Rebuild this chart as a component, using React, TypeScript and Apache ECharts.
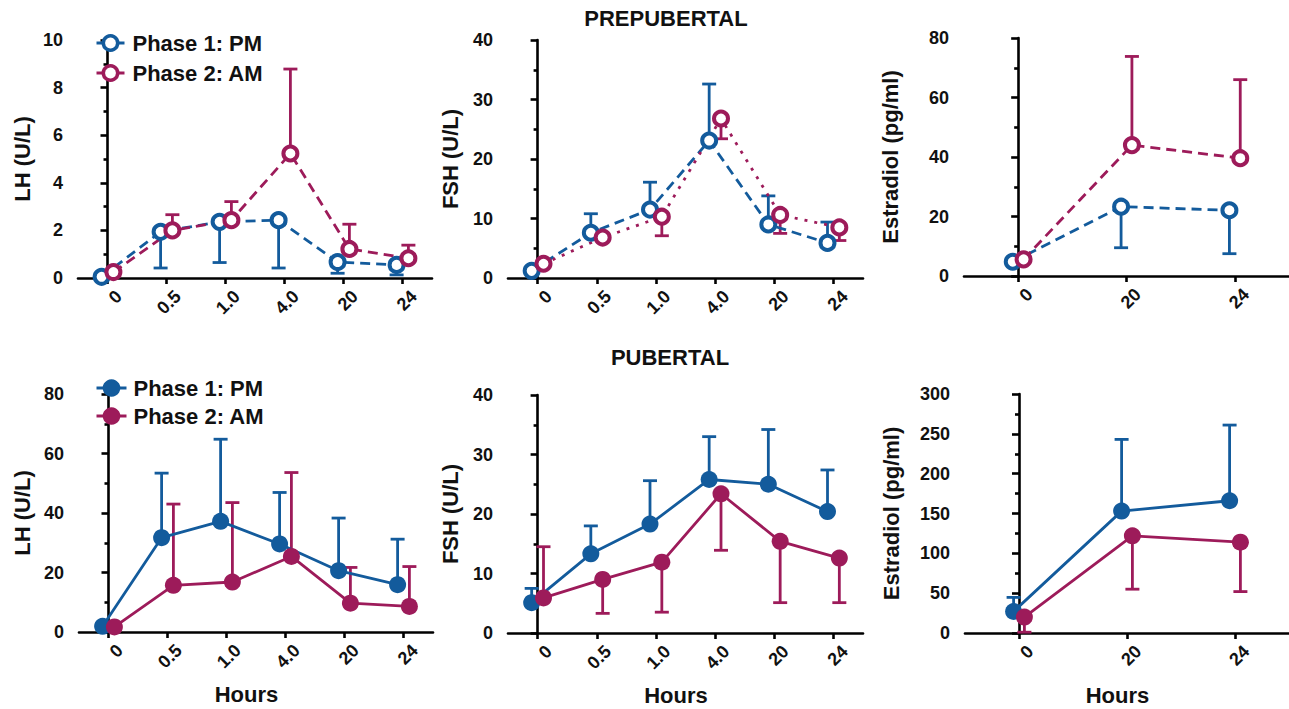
import React, { useEffect, useRef } from 'react';
import * as echarts from 'echarts';

// ---------- categories & labels ----------
const hours = ['0', '0.5', '1.0', '4.0', '20', '24'];
const hoursE2 = ['0', '20', '24'];
const titles = ['PREPUBERTAL', 'PUBERTAL'];
const yNames = ['LH (U/L)', 'FSH (U/L)', 'Estradiol (pg/ml)'];
const xName = 'Hours';
const phaseNames = ['Phase 1: PM', 'Phase 2: AM'];
const pubKeys = ['PM pubertal', 'AM pubertal'];

// y-axis scales (max, interval) per panel
const yMaxPre = [10, 40, 80];
const yIntPre = [2, 10, 20];
const yMaxPub = [80, 40, 300];
const yIntPub = [20, 10, 50];

// ---------- PREPUBERTAL ----------
const preLH_PM = [0.05, 1.94, 2.36, 2.43, 0.67, 0.55];
const preLH_PM_err = [null, 0.42, 0.65, 0.42, 0.2, 0.13];
const preLH_AM = [0.25, 2.0, 2.43, 5.23, 1.22, 0.83];
const preLH_AM_err = [null, 2.66, 3.21, 8.78, 2.26, 1.38];

const preFSH_PM = [1.2, 7.6, 11.5, 23.1, 9.0, 5.9];
const preFSH_PM_err = [null, 10.8, 16.1, 32.6, 13.8, 9.4];
const preFSH_AM = [2.4, 6.8, 10.3, 26.8, 10.6, 8.5];
const preFSH_AM_err = [null, null, 7.1, 23.4, 7.5, 6.3];

const preE2_PM = [4.8, 23.3, 22.1];
const preE2_PM_err = [null, 9.5, 7.5];
const preE2_AM = [5.6, 44.0, 39.6];
const preE2_AM_err = [null, 73.8, 66.0];

// ---------- PUBERTAL ----------
const pubLH_PM = [1.9, 31.7, 37.2, 29.6, 20.6, 15.9];
const pubLH_PM_err = [null, 53.4, 64.8, 46.9, 38.3, 31.2];
const pubLH_AM = [1.7, 15.7, 16.8, 25.4, 9.7, 8.6];
const pubLH_AM_err = [null, 43.0, 43.5, 53.6, 21.7, 22.0];

const pubFSH_PM = [5.1, 13.3, 18.3, 25.8, 25.0, 20.4];
const pubFSH_PM_err = [7.5, 18.0, 25.6, 33.0, 34.2, 27.4];
const pubFSH_AM = [5.9, 9.0, 11.9, 23.4, 15.4, 12.6];
const pubFSH_AM_err = [14.5, 3.3, 3.5, 13.9, 5.1, 5.1];

const pubE2_PM = [27, 153, 166];
const pubE2_PM_err = [44.7, 243, 261];
const pubE2_AM = [20, 122, 114];
const pubE2_AM_err = [1, 55, 52];

// ---------- styles ----------
const BLUE = '#135B9C';
const RED = '#9D1B5A';
const INK = '#111111';
const FONT = '"Liberation Sans", Arial, sans-serif';

type Panel = {
  grid: { left: number; top: number; width: number; height: number };
  cats: string[];
  yMax: number;
  yInt: number;
  yName: string;
  nameGap: number;
  pm: number[];
  pmErr: (number | null)[];
  am: number[];
  amErr: (number | null)[];
  hollow: boolean;
  amDotted: boolean;
  off: number;
  names: string[];
  showX: boolean;
};

const panels: Panel[] = [
  { grid: { left: 78, top: 40, width: 354, height: 238 }, cats: hours, yMax: yMaxPre[0], yInt: yIntPre[0], yName: yNames[0], nameGap: 45,
    pm: preLH_PM, pmErr: preLH_PM_err, am: preLH_AM, amErr: preLH_AM_err, hollow: true, amDotted: false, off: 0.1, names: phaseNames, showX: false },
  { grid: { left: 508, top: 40, width: 355, height: 238 }, cats: hours, yMax: yMaxPre[1], yInt: yIntPre[1], yName: yNames[1], nameGap: 47,
    pm: preFSH_PM, pmErr: preFSH_PM_err, am: preFSH_AM, amErr: preFSH_AM_err, hollow: true, amDotted: true, off: 0.1, names: phaseNames, showX: false },
  { grid: { left: 964, top: 38, width: 357, height: 238 }, cats: hoursE2, yMax: yMaxPre[2], yInt: yIntPre[2], yName: yNames[2], nameGap: 63,
    pm: preE2_PM, pmErr: preE2_PM_err, am: preE2_AM, amErr: preE2_AM_err, hollow: true, amDotted: false, off: 0.05, names: phaseNames, showX: false },
  { grid: { left: 79, top: 394, width: 354, height: 238 }, cats: hours, yMax: yMaxPub[0], yInt: yIntPub[0], yName: yNames[0], nameGap: 46,
    pm: pubLH_PM, pmErr: pubLH_PM_err, am: pubLH_AM, amErr: pubLH_AM_err, hollow: false, amDotted: false, off: 0.1, names: pubKeys, showX: true },
  { grid: { left: 508, top: 395, width: 355, height: 238 }, cats: hours, yMax: yMaxPub[1], yInt: yIntPub[1], yName: yNames[1], nameGap: 47,
    pm: pubFSH_PM, pmErr: pubFSH_PM_err, am: pubFSH_AM, amErr: pubFSH_AM_err, hollow: false, amDotted: false, off: 0.1, names: pubKeys, showX: true },
  { grid: { left: 965, top: 394, width: 357, height: 239 }, cats: hoursE2, yMax: yMaxPub[2], yInt: yIntPub[2], yName: yNames[2], nameGap: 63,
    pm: pubE2_PM, pmErr: pubE2_PM_err, am: pubE2_AM, amErr: pubE2_AM_err, hollow: false, amDotted: false, off: 0.05, names: pubKeys, showX: true },
];

function errRender(color: string) {
  return (params: any, api: any) => {
    const x = api.value(0);
    const m = api.value(1);
    const e = api.value(2);
    const p0 = api.coord([x, m]);
    const p1 = api.coord([x, e]);
    const st = { stroke: color, lineWidth: 2.8, lineCap: 'butt' };
    return {
      type: 'group',
      children: [
        { type: 'line', shape: { x1: p0[0], y1: p0[1], x2: p1[0], y2: p1[1] }, style: st },
        { type: 'line', shape: { x1: p1[0] - 7, y1: p1[1], x2: p1[0] + 7, y2: p1[1] }, style: st },
      ],
    };
  };
}

function buildOption() {
  const grid: any[] = [];
  const xAxis: any[] = [];
  const yAxis: any[] = [];
  const series: any[] = [];

  panels.forEach((p, i) => {
    grid.push({ ...p.grid, containLabel: false });
    // visible category axis
    xAxis.push({
      type: 'category',
      gridIndex: i,
      data: p.cats,
      boundaryGap: true,
      axisLine: { show: true, lineStyle: { color: '#000', width: 2.6 } },
      axisTick: { show: true, alignWithLabel: true, length: 6, lineStyle: { color: '#000', width: 2.6 } },
      axisLabel: {
        interval: 0, rotate: 45, fontSize: 18, fontWeight: 'bold', color: INK, fontFamily: FONT,
        align: 'right', verticalAlign: 'top', padding: [7, 0, 0, 0], margin: 4,
      },
      splitLine: { show: false },
      name: p.showX ? xName : '',
      nameLocation: 'middle',
      nameGap: 51,
      nameTextStyle: { fontSize: 22, fontWeight: 'bold', color: INK, fontFamily: FONT, padding: [0, 19, 0, 0] },
    });
    // hidden value axis used to place the data
    xAxis.push({
      type: 'value',
      gridIndex: i,
      min: -0.5,
      max: p.cats.length - 0.5,
      show: false,
    });
    yAxis.push({
      type: 'value',
      gridIndex: i,
      min: 0,
      max: p.yMax,
      interval: p.yInt,
      axisLine: { show: true, lineStyle: { color: '#000', width: 2.6 } },
      axisTick: { show: true, length: 7, lineStyle: { color: '#000', width: 2.6 } },
      minorTick: { show: true, splitNumber: 2, length: 4, lineStyle: { color: '#000', width: 2.6 } },
      splitLine: { show: false },
      minorSplitLine: { show: false },
      axisLabel: { fontSize: 18, fontWeight: 'bold', color: INK, fontFamily: FONT, margin: 15 },
      name: p.yName,
      nameLocation: 'middle',
      nameRotate: 90,
      nameGap: p.nameGap,
      nameTextStyle: { fontSize: 22, fontWeight: 'bold', color: INK, fontFamily: FONT },
    });

    const defs = [
      { vals: p.pm, errs: p.pmErr, color: BLUE, dx: -p.off, name: p.names[0], dotted: false },
      { vals: p.am, errs: p.amErr, color: RED, dx: p.off, name: p.names[1], dotted: p.amDotted },
    ];
    defs.forEach((d) => {
      series.push({
        type: 'custom',
        name: 'err-' + d.name,
        xAxisIndex: 2 * i + 1,
        yAxisIndex: i,
        z: 2,
        clip: false,
        encode: { x: 0, y: [1, 2] },
        renderItem: errRender(d.color),
        data: d.vals
          .map((v, k) => (d.errs[k] == null ? null : [k + d.dx, v, d.errs[k]]))
          .filter((r) => r !== null),
      });
    });
    defs.forEach((d) => {
      series.push({
        type: 'line',
        name: d.name,
        xAxisIndex: 2 * i + 1,
        yAxisIndex: i,
        z: 3,
        symbol: 'circle',
        symbolSize: p.hollow ? 14 : 17,
        itemStyle: p.hollow
          ? { color: '#ffffff', borderColor: d.color, borderWidth: 4 }
          : { color: d.color, borderWidth: 0 },
        lineStyle: {
          color: d.color,
          width: 2.8,
          type: p.hollow ? (d.dotted ? [3, 7] : [10, 6]) : 'solid',
        },
        emphasis: { disabled: true },
        data: d.vals.map((v, k) => [k + d.dx, v]),
      });
    });
  });

  const pubLabels: Record<string, string> = { [pubKeys[0]]: phaseNames[0], [pubKeys[1]]: phaseNames[1] };

  return {
    animation: false,
    backgroundColor: '#ffffff',
    grid,
    xAxis,
    yAxis,
    series,
    legend: [
      {
        data: phaseNames,
        orient: 'vertical',
        left: 90,
        top: 27,
        itemWidth: 28,
        itemHeight: 18,
        itemGap: 8,
        selectedMode: false,
        lineStyle: { type: [40, 0], width: 3 },
        itemStyle: { borderWidth: 3.5 },
        textStyle: { fontSize: 22, fontWeight: 'bold', color: INK, fontFamily: FONT, padding: [0, 0, 0, 3] },
      },
      {
        data: pubKeys,
        formatter: (n: string) => pubLabels[n] ?? n,
        orient: 'vertical',
        left: 90,
        top: 372,
        itemWidth: 30,
        itemHeight: 22,
        itemGap: 6,
        selectedMode: false,
        lineStyle: { type: [40, 0], width: 3 },
        textStyle: { fontSize: 22, fontWeight: 'bold', color: INK, fontFamily: FONT, padding: [0, 0, 0, 2] },
      },
    ],
    graphic: [
      {
        type: 'text', x: 666, y: 18,
        style: { text: titles[0], textAlign: 'center', textVerticalAlign: 'middle', font: `bold 22px ${FONT}`, fill: INK },
      },
      {
        type: 'text', x: 670, y: 357,
        style: { text: titles[1], textAlign: 'center', textVerticalAlign: 'middle', font: `bold 22px ${FONT}`, fill: INK },
      },
    ],
  };
}

export default function App() {
  const ref = useRef<HTMLDivElement>(null);
  useEffect(() => {
    if (!ref.current) return;
    const chart = echarts.init(ref.current, null, { renderer: 'svg' });
    chart.setOption(buildOption() as any);
    return () => chart.dispose();
  }, []);
  return (
    <div
      ref={ref}
      style={{ position: 'absolute', left: 0, top: 0, width: 1289, height: 709, background: '#fff' }}
    />
  );
}
